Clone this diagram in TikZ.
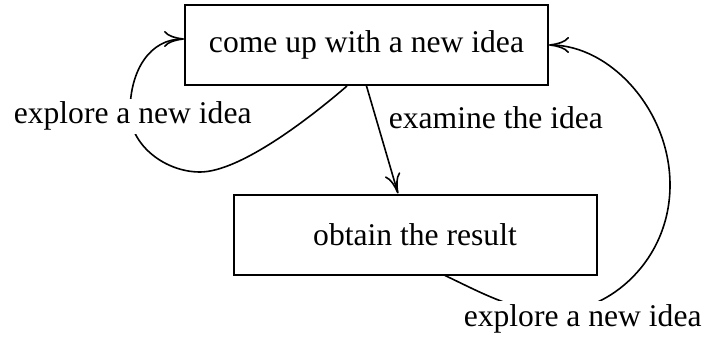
\documentclass[tikz,border=0pt]{standalone}
\usepackage{fontspec}
\setmainfont{Liberation Serif}
\usetikzlibrary{arrows.meta}
\begin{document}
\begin{tikzpicture}[x=0.5pt, y=-0.5pt, line width=0.8pt, >={To[length=10pt,width=8pt]},
  every node/.style={font=\fontsize{15.8}{19}\selectfont},
  stage/.style={draw, line width=1pt, minimum width=181.5pt, minimum height=40pt},
  steplabel/.style={fill=white, inner ysep=1.5pt, inner xsep=0.5pt, anchor=base west}]
  \useasboundingbox (0,0) rectangle (704,336);

  % the two stages
  \node[stage] (idea) at (366.5,45) {come up with a new idea};
  \node[stage] (result) at (415,234.5) {obtain the result};

  % connectors
  \draw[->] (idea.south) -- ([xshift=-8.5pt]result.north);
  \draw[->] ([xshift=-9.75pt]idea.south) .. controls (310,118) and (240,172) .. (200,172)
    .. controls (165,172) and (130,145) .. (130,112)
    .. controls (130,70) and (150,39) .. ([yshift=3pt]idea.west);
  \draw[->] ([xshift=15pt]result.south) .. controls (480,292) and (515,312) .. (555,312)
    .. controls (610,312) and (670,260) .. (670,185)
    .. controls (670,110) and (610,45) .. (idea.east);

  % labels over the curves
  \node[steplabel] (explore1) at (12,124) {explore a new idea};
  \node[steplabel] (examine) at (387,128) {examine the idea};
  \node[steplabel] (explore2) at (462,326) {explore a new idea};
\end{tikzpicture}
\end{document}
